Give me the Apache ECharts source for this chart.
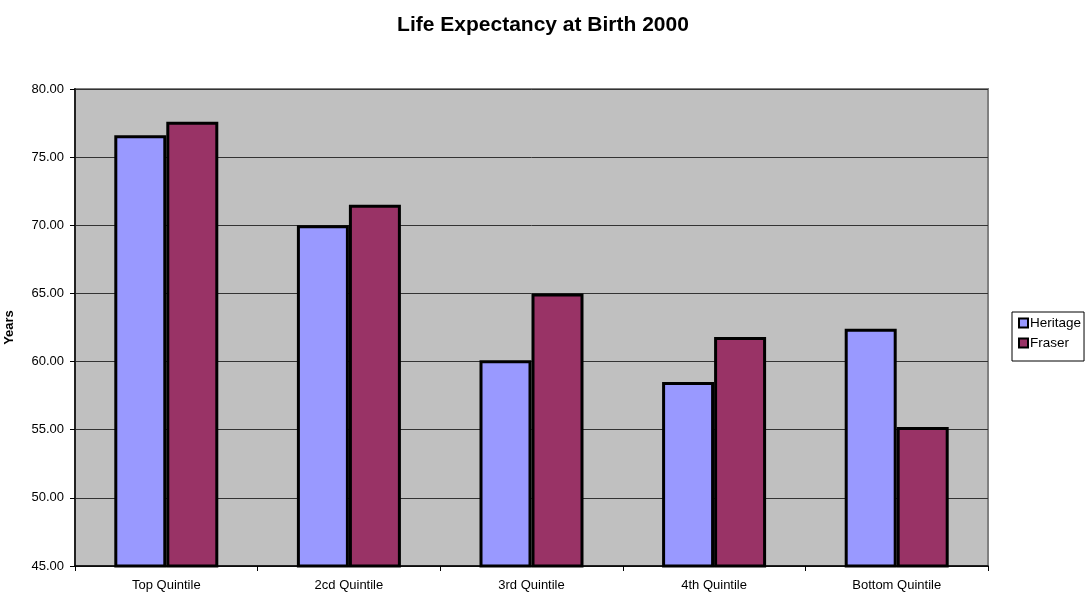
<!DOCTYPE html>
<html>
<head>
<meta charset="utf-8">
<script src="https://cdn.jsdelivr.net/npm/echarts@6/dist/echarts.min.js"></script>
<style>
  html, body { margin: 0; padding: 0; background: #fff; }
  #chart { width: 1090px; height: 593px; }
</style>
</head>
<body>
<div id="chart"></div>
<script>
// Life expectancy at birth (years), by income quintile
const categories = ['Top Quintile', '2cd Quintile', '3rd Quintile', '4th Quintile', 'Bottom Quintile'];
const heritage = [76.6, 70.0, 60.1, 58.5, 62.4];
const fraser = [77.6, 71.5, 65.0, 61.8, 55.2];
const yMin = 45;
const yMax = 80;
const yStep = 5;

const FONT = '"Liberation Sans", Arial, sans-serif';

const chart = echarts.init(document.getElementById('chart'), null, { renderer: 'canvas' });

chart.setOption({
  backgroundColor: '#ffffff',
  animation: false,
  textStyle: { fontFamily: FONT, color: '#000' },
  title: {
    text: 'Life Expectancy at Birth 2000',
    left: 538,
    textAlign: 'center',
    top: 10,
    textStyle: { fontFamily: FONT, fontSize: 21, fontWeight: 'bold', color: '#000' }
  },
  legend: {
    orient: 'vertical',
    left: 1012,
    top: 312,
    padding: [4, 3, 11, 6],
    itemGap: 6,
    itemWidth: 9,
    itemHeight: 9,
    itemStyle: { borderColor: '#000', borderWidth: 2 },
    borderColor: '#000',
    borderWidth: 1,
    backgroundColor: '#fff',
    icon: 'rect',
    textStyle: { fontFamily: FONT, fontSize: 13.5, color: '#000', padding: [0, 0, 0, -3] },
    data: ['Heritage', 'Fraser']
  },
  grid: {
    left: 75,
    right: 102,
    top: 89,
    bottom: 27,
    containLabel: false,
    outerBoundsMode: 'none',
    show: true,
    backgroundColor: '#C0C0C0',
    borderColor: '#808080',
    borderWidth: 2
  },
  xAxis: {
    type: 'category',
    data: categories,
    axisLine: { show: true, lineStyle: { color: '#000', width: 1.5 } },
    axisTick: { show: true, interval: 0, alignWithLabel: false, length: 5, lineStyle: { color: '#000' } },
    axisLabel: { interval: 0, margin: 13, fontFamily: FONT, fontSize: 13, color: '#000' },
    splitLine: { show: false }
  },
  yAxis: {
    type: 'value',
    min: yMin,
    max: yMax,
    interval: yStep,
    name: 'Years',
    nameLocation: 'middle',
    nameRotate: 90,
    nameGap: 59,
    nameTextStyle: { fontFamily: FONT, fontSize: 13, fontWeight: 'bold', color: '#000' },
    axisLine: { show: true, lineStyle: { color: '#222', width: 2 } },
    axisTick: { show: true, inside: false, length: 5, lineStyle: { color: '#000' } },
    axisLabel: {
      margin: 11,
      fontFamily: FONT,
      fontSize: 13,
      color: '#000',
      formatter: v => v.toFixed(2)
    },
    splitLine: { show: true, lineStyle: { color: '#333', width: 1 } }
  },
  series: [
    {
      name: 'Heritage',
      type: 'bar',
      data: heritage,
      barWidth: 52,
      barGap: '0%',
      itemStyle: { color: '#9999FF', borderColor: '#000', borderWidth: 3 }
    },
    {
      name: 'Fraser',
      type: 'bar',
      data: fraser,
      barWidth: 52,
      barGap: '0%',
      itemStyle: { color: '#993366', borderColor: '#000', borderWidth: 3 }
    }
  ]
});
</script>
</body>
</html>
